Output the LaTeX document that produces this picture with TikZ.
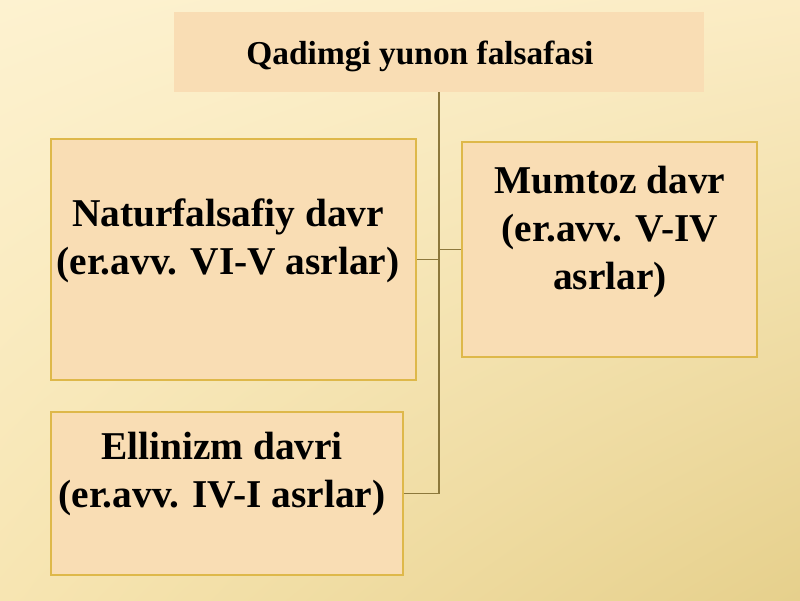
\documentclass[tikz,border=0pt]{standalone}
\usepackage{fontspec}
\setmainfont{Liberation Serif}
\usepackage{tikz}
\usetikzlibrary{positioning,shadings}

\definecolor{bgtl}{RGB}{253,242,208}
\definecolor{bgtr}{RGB}{251,236,196}
\definecolor{bgbl}{RGB}{247,229,178}
\definecolor{bgbr}{RGB}{230,208,140}
\definecolor{boxfill}{RGB}{249,221,180}
\definecolor{boxedge}{RGB}{222,184,74}
\definecolor{wirecol}{RGB}{140,120,60}

\tikzset{
	titlebox/.style={shape=rectangle, fill=boxfill, inner sep=0pt},
	periodbox/.style={shape=rectangle, fill=boxfill, draw=boxedge, line width=1.6pt, inner sep=0pt},
	boxtext/.style={align=center, inner sep=0pt, font=\bfseries\fontsize{39.4}{48}\selectfont},
	wire/.style={draw=wirecol, line width=1.4pt}
}

\begin{document}
\begin{tikzpicture}[x=1pt, y=-1pt]
	% Background:
	\shade[upper left=bgtl, upper right=bgtr, lower left=bgbl, lower right=bgbr] (0,0) rectangle (800,600);
	\useasboundingbox (0,0) rectangle (800,600);
	% Boxes and texts:
	\node[titlebox, minimum width=530pt, minimum height=80pt](Title) at (439, 52){};
	\node[font=\bfseries\fontsize{33.4}{40}\selectfont, inner sep=0pt] at (420, 56){Qadimgi yunon falsafasi};
	\node[periodbox, minimum width=365pt, minimum height=241pt](Natur) at (233.5, 259.5){};
	\node[boxtext] at (228, 241){Naturfalsafiy davr\\(er.avv. VI-V asrlar)};
	\node[periodbox, minimum width=295pt, minimum height=215pt](Mumtoz) at (609.5, 249.5){};
	\node[boxtext] at (610, 232){Mumtoz davr\\(er.avv. V-IV\\asrlar)};
	\node[periodbox, minimum width=352pt, minimum height=163pt](Ellin) at (227, 493.5){};
	\node[boxtext] at (222, 474){Ellinizm davri\\(er.avv. IV-I asrlar)};
	% Wires:
	\draw[wire] (Title.south) -- (Title.south |- Ellin.east) -- (Ellin.east);
	\draw[wire] (Natur.east) -- (Natur.east -| Title.south);
	\draw[wire] (Mumtoz.west) -- (Mumtoz.west -| Title.south);
\end{tikzpicture}
\end{document}
